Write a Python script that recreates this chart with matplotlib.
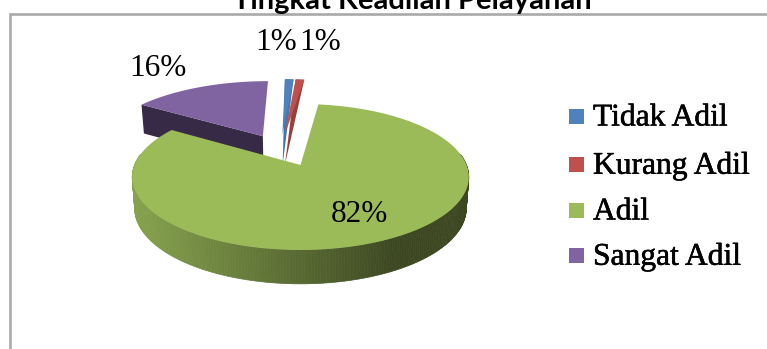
import numpy as np
import matplotlib
matplotlib.use('Agg')  # Use non-GUI backend

import matplotlib.pyplot as plt
import matplotlib.patheffects as pe
from matplotlib.collections import PolyCollection
from matplotlib.colors import to_rgb
from matplotlib.patches import Polygon, Rectangle

W, H = 767, 349

title = "Tingkat Keadilan Pelayanan"
categories = ["Tidak Adil", "Kurang Adil", "Adil", "Sangat Adil"]
values = [1, 1, 82, 16]
top_colors = ["#4f81bd", "#c0504d", "#9bbb59", "#8064a2"]
cut_colors = ["#4577ae", "#963f3c", "#4a5a2a", "#372a46"]

# perspective of the pie plane, in pixels
ORIGIN = (300.5, 165.0)
SCALE_X, SCALE_Y = 166.0, 71.0
PERSP = 0.164
DEPTH = 31.0
CENTER = (-0.125, 0.22)
EXPLODE = 0.245
radii = [1.04, 1.04, 1.0, 1.03]


def project(x, y):
    w = 1 + PERSP * y
    return ORIGIN[0] + SCALE_X * x / w, ORIGIN[1] - SCALE_Y * y / w


def drop(px, py, x, y):
    # same point on the underside of the pie
    w = 1 + PERSP * y
    return ORIGIN[0] + (px - ORIGIN[0]) * 0.985, py + DEPTH / w ** 0.5


def lerp_color(a, b, t):
    a, b = np.array(to_rgb(a)), np.array(to_rgb(b))
    return tuple(a + (b - a) * t)


fig = plt.figure(figsize=(W / 100, H / 100), dpi=100)
ax = fig.add_axes([0, 0, 1, 1])
ax.set_xlim(0, W)
ax.set_ylim(H, 0)
ax.axis('off')

# frame, cut off at the right and bottom
ax.plot([W, 10, 10], [13.5, 13.5, H], color="#a9a9a9", lw=1.9, solid_joinstyle='miter')

fractions = np.array(values) / sum(values)
edges = np.concatenate([[0], np.cumsum(fractions)]) * 2 * np.pi

# small far slices first, the big one goes on top
for i in [3, 0, 1, 2]:
    start, end = edges[i], edges[i + 1]
    mid = (start + end) / 2
    ax0 = CENTER[0] + EXPLODE * np.sin(mid)
    ay0 = CENTER[1] + EXPLODE * np.cos(mid)
    if i == 2:
        ax0 = ay0 = 0.0  # origin of the plane sits on the tip of the big slice
    t = np.linspace(start, end, max(4, int(values[i] * 4)))
    ux, uy = ax0 + radii[i] * np.sin(t), ay0 + radii[i] * np.cos(t)
    px, py = project(ux, uy)
    bx, by = drop(px, py, ux, uy)
    apx, apy = project(ax0, ay0)
    abx, aby = drop(apx, apy, ax0, ay0)

    # rim of the big slice, shaded from left to right
    if i == 2:
        strips, shades = [], []
        for j in range(len(t) - 1):
            if np.cos(t[j]) + np.cos(t[j + 1]) > 0.3:
                continue
            strips.append([(px[j], py[j]), (px[j + 1], py[j + 1]), (bx[j + 1], by[j + 1]), (bx[j], by[j])])
            shades.append(lerp_color("#86a24d", "#3d4822", np.clip(((px[j] + px[j + 1]) / 2 - 135) / 260, 0, 1)))
        ax.add_collection(PolyCollection(strips, facecolors=shades, edgecolors=shades, linewidths=0.5))

    # cut faces that turn toward the viewer
    if i == 3:
        ax.add_patch(Polygon([(px[0], py[0]), (apx, apy), (abx, aby), (bx[0], by[0])], fc=cut_colors[i], ec='none'))
    if i in (0, 1):
        # thin slices narrow down to the tip of their underside
        ax.add_patch(Polygon(np.column_stack([np.r_[abx, px], np.r_[aby, py]]), fc=cut_colors[i], ec='none'))

    top = np.column_stack([np.r_[apx, px], np.r_[apy, py]])
    ax.add_patch(Polygon(top, fc=top_colors[i], ec='none'))

# slice labels
label_pos = [(276, 43), (320, 42), (359, 215), (158, 68)]
for v, (lx, ly) in zip(values, label_pos):
    ax.text(lx, ly, f"{v}%", ha='center', va='center', fontsize=22.5, family="Liberation Serif", color="black")

# legend
legend_y = [116, 164, 210, 255]
for name, color, ly in zip(categories, top_colors, legend_y):
    ax.add_patch(Rectangle((568.5, ly - 7), 15, 14.5, fc=color, ec='none'))
    ax.text(593, ly + 2, name, ha='left', va='center', fontsize=22.7, family="Liberation Serif", color="black",
            path_effects=[pe.withStroke(linewidth=0.4, foreground="black")])

ax.text(412, 1, title, ha='center', va='center', fontsize=21, fontweight='bold', family="Lato", color="black")

fig.savefig("out.png", dpi=100)
plt.close(fig)
